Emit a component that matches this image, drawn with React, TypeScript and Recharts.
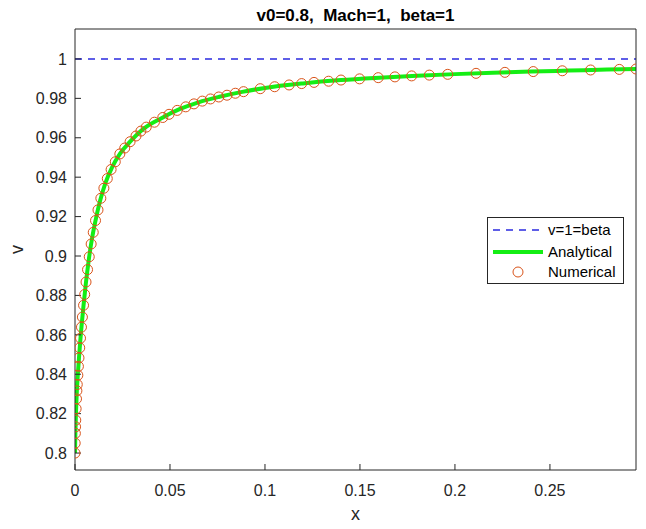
import { ComposedChart, Line, Scatter, XAxis, YAxis } from 'recharts';

const xTicks = [0, 0.05, 0.1, 0.15, 0.2, 0.25];
const yTicks = [0.8, 0.82, 0.84, 0.86, 0.88, 0.9, 0.92, 0.94, 0.96, 0.98, 1];
const xRange = [0, 0.2953];
const yRange = [0.7914, 1.0152];

// v = 1 = beta reference
const betaX = [0, 0.2953];
const betaV = [1, 1];

// analytical solution
const analyticX = [
  0, 0.0002, 0.0005, 0.0009, 0.0014, 0.002, 0.0027, 0.0035, 0.0045, 0.0057,
  0.0071, 0.0088, 0.0108, 0.0132, 0.016, 0.0195, 0.0237, 0.029, 0.036, 0.045,
  0.055, 0.065, 0.076, 0.088, 0.1, 0.12, 0.14, 0.16, 0.18, 0.2,
  0.22, 0.24, 0.26, 0.28, 0.2953,
];
const analyticV = [
  0.8, 0.81, 0.82, 0.83, 0.8385, 0.847, 0.856, 0.865, 0.875, 0.886,
  0.897, 0.908, 0.918, 0.928, 0.937, 0.945, 0.952, 0.958, 0.9645, 0.9697,
  0.9745, 0.978, 0.9808, 0.9833, 0.9853, 0.9876, 0.9893, 0.9905, 0.9915, 0.9923,
  0.993, 0.9936, 0.9941, 0.9946, 0.9949,
];

// numerical (solver output) points
const numericX = [
  0, 0.0001, 0.0002, 0.0003, 0.0004, 0.0006, 0.0008, 0.001, 0.0012, 0.0015,
  0.0018, 0.0021, 0.0025, 0.0029, 0.0034, 0.0039, 0.0045, 0.0051, 0.0058, 0.0066,
  0.0075, 0.0085, 0.0096, 0.0108, 0.0121, 0.0136, 0.0152, 0.017, 0.019, 0.0212,
  0.0236, 0.0262, 0.029, 0.0321, 0.0347, 0.0375, 0.0418, 0.0462, 0.0495, 0.0538,
  0.0583, 0.0626, 0.067, 0.0713, 0.0757, 0.08, 0.0844, 0.0887, 0.0975, 0.1051,
  0.1127, 0.1193, 0.1258, 0.1335, 0.14, 0.1498, 0.1596, 0.1684, 0.1772, 0.1865,
  0.1962, 0.2111, 0.2263, 0.2412, 0.2565, 0.2714, 0.2865, 0.2953,
];
const numericV = [
  0.8, 0.805, 0.81, 0.8133, 0.8167, 0.8225, 0.8275, 0.8316, 0.8348, 0.8395,
  0.844, 0.8483, 0.8534, 0.8583, 0.8639, 0.869, 0.875, 0.8805, 0.8868, 0.8931,
  0.8996, 0.9061, 0.912, 0.918, 0.9234, 0.9293, 0.9344, 0.9393, 0.9439, 0.9478,
  0.9518, 0.9548, 0.958, 0.9609, 0.9634, 0.9654, 0.9679, 0.9703, 0.9719, 0.9739,
  0.9757, 0.9772, 0.9786, 0.9797, 0.9807, 0.9816, 0.9826, 0.9834, 0.9849, 0.9859,
  0.9868, 0.9875, 0.9881, 0.9887, 0.9893, 0.9899, 0.9905, 0.9909, 0.9914, 0.9918,
  0.9922, 0.9927, 0.9932, 0.9936, 0.994, 0.9944, 0.9947, 0.9949,
];

const betaData = betaX.map((x, i) => ({ x, y: betaV[i] }));
const analyticData = analyticX.map((x, i) => ({ x, y: analyticV[i] }));
const numericData = numericX.map((x, i) => ({ x, y: numericV[i] }));

const FONT = '"Liberation Sans", Arial, Helvetica, sans-serif';
const AXIS = '#262626';
const BLUE = '#2a2ae0';
const GREEN = '#14ee14';
const ORANGE = '#d95319';

const tickStyle = { fontSize: 16, fill: AXIS, fontFamily: FONT };

const Ring = (props: any) => (
  <circle cx={props.cx} cy={props.cy} r={5} fill="none" stroke={ORANGE} strokeWidth={1} />
);

const YLabel = (props: any) => {
  const vb = props.viewBox || {};
  const cx = vb.x + 23;
  const cy = vb.y + vb.height / 2;
  return (
    <text x={cx} y={cy} transform={`rotate(-90, ${cx}, ${cy})`} textAnchor="middle"
      fontSize={18} fill={AXIS} fontFamily={FONT}>v</text>
  );
};

export default function App() {
  return (
    <div style={{ position: 'fixed', left: 0, top: 0, width: 646, height: 529, background: '#fff' }}>
      <ComposedChart width={646} height={529} margin={{ top: 28, right: 9, bottom: 0, left: 0 }}>
        <XAxis
          dataKey="x"
          type="number"
          domain={xRange}
          allowDataOverflow
          ticks={xTicks}
          interval={0}
          height={59}
          tickSize={-6}
          tickMargin={21}
          tick={tickStyle}
          stroke={AXIS}
          label={{ value: 'x', position: 'insideBottom', offset: 9, fontSize: 18, fill: AXIS, fontFamily: FONT }}
        />
        <XAxis
          xAxisId="top"
          orientation="top"
          type="number"
          domain={xRange}
          allowDataOverflow
          ticks={xTicks}
          interval={0}
          height={1}
          tickSize={-6}
          tick={false}
          stroke={AXIS}
        />
        <YAxis
          type="number"
          domain={yRange}
          allowDataOverflow
          ticks={yTicks}
          interval={0}
          width={75}
          tickSize={-6}
          tickMargin={14}
          tick={tickStyle}
          stroke={AXIS}
          label={<YLabel />}
        />
        <YAxis
          yAxisId="right"
          orientation="right"
          type="number"
          domain={yRange}
          allowDataOverflow
          ticks={yTicks}
          interval={0}
          width={1}
          tickSize={-6}
          tick={false}
          stroke={AXIS}
        />
        <Line
          data={betaData}
          dataKey="y"
          stroke={BLUE}
          strokeWidth={1.4}
          strokeDasharray="7 6"
          dot={false}
          isAnimationActive={false}
        />
        <Line
          data={analyticData}
          dataKey="y"
          type="monotone"
          stroke={GREEN}
          strokeWidth={4}
          dot={false}
          isAnimationActive={false}
        />
        <Scatter data={numericData} dataKey="y" shape={<Ring />} isAnimationActive={false} />
      </ComposedChart>

      <svg width={646} height={529} style={{ position: 'absolute', left: 0, top: 0, pointerEvents: 'none' }}>
        <text x={355.5} y={21} textAnchor="middle" fontSize={17} fontWeight="bold" fill="#000"
          fontFamily={FONT} style={{ whiteSpace: 'pre' }}>
          {'v0=0.8,  Mach=1,  beta=1'}
        </text>
        <g fontFamily={FONT} fontSize={15} fill="#000">
          <rect x={487.5} y={217.5} width={136} height={66} fill="#fff" stroke={AXIS} strokeWidth={1} />
          <line x1={493} y1={230} x2={543} y2={230} stroke={BLUE} strokeWidth={1.4} strokeDasharray="7 6" />
          <text x={548} y={235}>v=1=beta</text>
          <line x1={493} y1={252} x2={543} y2={252} stroke={GREEN} strokeWidth={4} />
          <text x={548} y={257}>Analytical</text>
          <circle cx={518} cy={272} r={5} fill="none" stroke={ORANGE} strokeWidth={1} />
          <text x={548} y={277}>Numerical</text>
        </g>
      </svg>
    </div>
  );
}
